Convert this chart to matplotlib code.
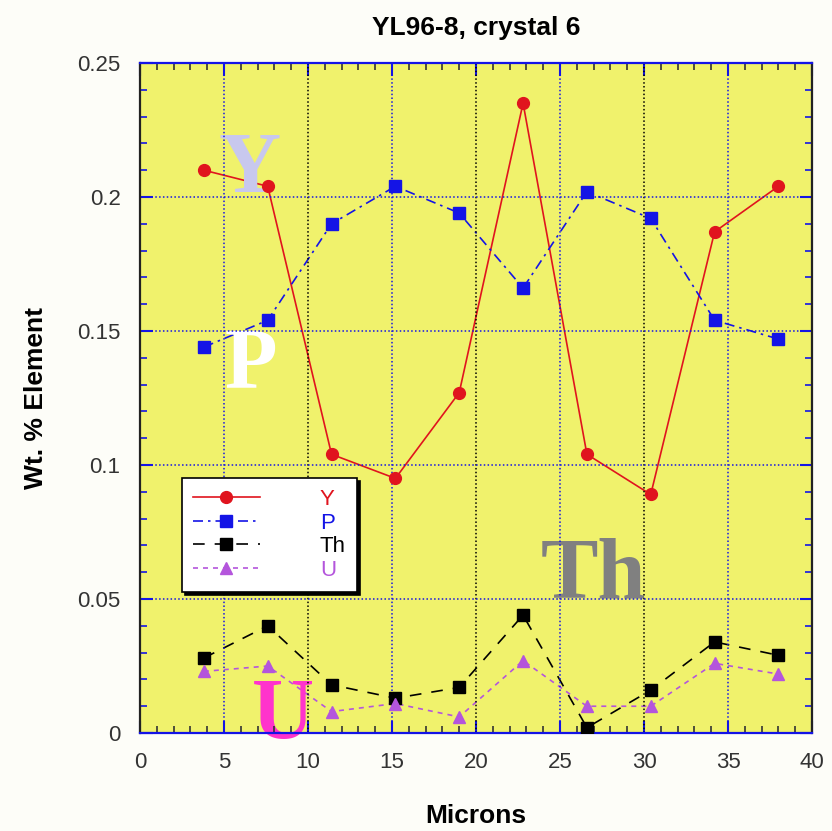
import matplotlib
matplotlib.use('Agg')
import matplotlib.pyplot as plt
from matplotlib.lines import Line2D
from matplotlib import font_manager

# ---- data ----
microns = [3.8, 7.6, 11.4, 15.2, 19.0, 22.8, 26.6, 30.4, 34.2, 38.0]
y_wt = [0.210, 0.204, 0.104, 0.095, 0.127, 0.235, 0.104, 0.089, 0.187, 0.204]
p_wt = [0.144, 0.154, 0.190, 0.204, 0.194, 0.166, 0.202, 0.192, 0.154, 0.147]
th_wt = [0.028, 0.040, 0.018, 0.013, 0.017, 0.044, 0.002, 0.016, 0.034, 0.029]
u_wt = [0.023, 0.025, 0.008, 0.011, 0.006, 0.027, 0.010, 0.010, 0.026, 0.022]

x_ticks = [0, 5, 10, 15, 20, 25, 30, 35, 40]
y_ticks = [0, 0.05, 0.1, 0.15, 0.2, 0.25]
y_tick_labels = ['0', '0.05', '0.1', '0.15', '0.2', '0.25']

names = set(f.name for f in font_manager.fontManager.ttflist)
sans = 'Liberation Sans Narrow' if 'Liberation Sans Narrow' in names else 'Liberation Sans'
plt.rcParams['font.family'] = [sans, 'DejaVu Sans']

BLUE = '#1414e6'
RED = '#e0141e'
VIOLET = '#b455dc'
YELLOW = '#f0f26c'

fig = plt.figure(figsize=(8.32, 8.31), dpi=100)
fig.patch.set_facecolor('#fdfdf8')
ax = fig.add_axes([0.1683, 0.1179, 0.8077, 0.8063])
ax.set_facecolor(YELLOW)

# series: (values, colour, linestyle, marker, size, label)
series = [
    (y_wt, RED, '-', 'o', 8.5, 'Y'),
    (p_wt, BLUE, (0, (6, 3, 1.5, 3)), 's', 9, 'P'),
    (th_wt, 'black', (0, (7, 6)), 's', 8.5, 'Th'),
    (u_wt, VIOLET, (0, (3, 3)), '^', 8, 'U'),
]

handles = []
for vals, col, ls, mk, ms, lab in series:
    ax.plot(microns, vals, color=col, linestyle=ls, linewidth=1.2, zorder=1.2)
    ax.plot(microns, vals, color=col, linestyle='none', marker=mk,
            markersize=ms, zorder=3)
    handles.append(Line2D([], [], color=col, linestyle=ls, linewidth=1.2,
                          marker=mk, markersize=ms, label=lab))

# grid: blue dotted, black on the 10s
for xv in x_ticks[1:-1]:
    gc = 'black' if xv % 10 == 0 else BLUE
    ax.axvline(xv, color=gc, linestyle=(0, (1, 1.5)), linewidth=1.1, zorder=2)
for yv in y_ticks[1:-1]:
    ax.axhline(yv, color=BLUE, linestyle=(0, (1, 1.5)), linewidth=1.1, zorder=2)

# big element letters
big = dict(family=['Liberation Serif', 'DejaVu Serif'], fontweight='bold',
           fontsize=62, ha='center', va='baseline', zorder=1.5)
ax.text(6.5, 0.2019, 'Y', color='#c8c8ee', **big)
ax.text(6.6, 0.129, 'P', color='white', **big)
ax.text(27.0, 0.0505, 'Th', color='#808080', **big)
ax.text(8.5, -0.002, 'U', color='#ff33cc', clip_on=False, **big)

ax.set_xlim(0, 40)
ax.set_ylim(0, 0.25)
ax.set_xticks(x_ticks)
ax.set_yticks(y_ticks)
ax.set_yticklabels(y_tick_labels)
ax.set_xticks(range(0, 41), minor=True)
ax.set_yticks([i / 100 for i in range(26)], minor=True)
ax.tick_params(which='both', direction='in', top=True, right=True,
               labelsize=16, labelcolor='#333333', pad=14)
ax.tick_params(which='major', length=9, width=1.5, color=BLUE)
ax.tick_params(which='minor', length=5, width=1.2)
ax.tick_params(axis='x', which='minor', color='#333333')
ax.tick_params(axis='y', which='minor', color=BLUE)

ax.spines['top'].set_color(BLUE)
ax.spines['bottom'].set_color(BLUE)
ax.spines['left'].set_color('#222222')
ax.spines['right'].set_color('#222222')
for s in ax.spines.values():
    s.set_linewidth(1.6)

ax.set_title('YL96-8, crystal 6', fontsize=19, fontweight='bold', pad=20)
ax.set_xlabel('Microns', fontsize=19, fontweight='bold', labelpad=22)
ax.set_ylabel('Wt. % Element', fontsize=19, fontweight='bold', labelpad=21)

leg = ax.legend(handles=handles, loc='upper left', bbox_to_anchor=(0.0625, 0.381),
                borderaxespad=0, fontsize=16, labelcolor='linecolor',
                handlelength=3.0, handletextpad=2.7, labelspacing=0.12,
                borderpad=0.5, frameon=True, fancybox=False,
                shadow={'color': 'black', 'alpha': 1}, markerscale=1.0)
leg.get_frame().set_edgecolor('black')
leg.get_frame().set_linewidth(1.2)
leg.get_frame().set_facecolor('white')
leg.get_frame().set_alpha(1)
leg.set_zorder(5)

fig.savefig('out.png', dpi=100, facecolor=fig.get_facecolor())
